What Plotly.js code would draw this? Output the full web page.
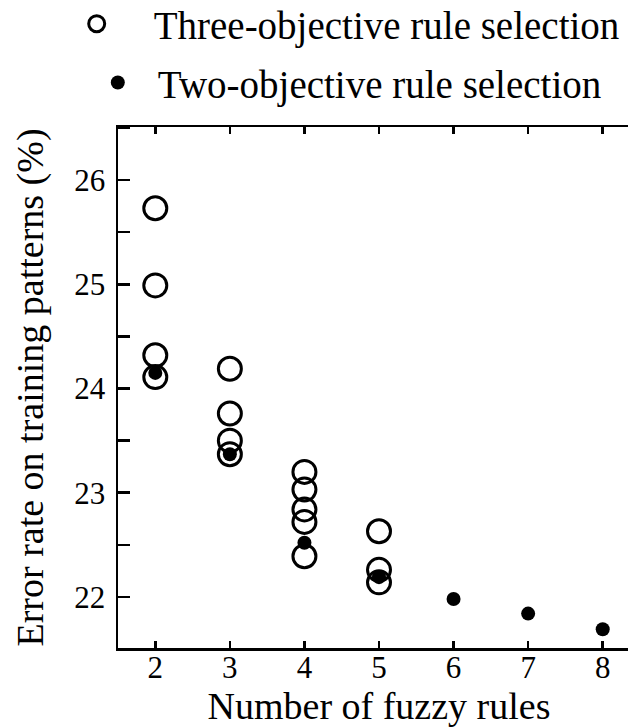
<!DOCTYPE html>
<html>
<head>
<meta charset="utf-8">
<script src="https://cdn.plot.ly/plotly-3.0.1.min.js"></script>
<style>
html, body { margin: 0; padding: 0; overflow: hidden; background: #fff; }
#chart { width: 660px; height: 728px; }
</style>
</head>
<body>
<div id="chart"></div>
<script>
// Data
const threeObjRules = [2, 2, 2, 2, 3, 3, 3, 3, 4, 4, 4, 4, 4, 5, 5, 5];
const threeObjError = [25.73, 24.99, 24.32, 24.11, 24.19, 23.76, 23.50, 23.37, 23.20, 23.03, 22.84, 22.72, 22.39, 22.63, 22.26, 22.14];
const twoObjRules = [2, 3, 4, 5, 6, 7, 8];
const twoObjError = [24.15, 23.37, 22.52, 22.19, 21.98, 21.84, 21.69];
const xTickVals = [2, 3, 4, 5, 6, 7, 8];
const yTickVals = [22, 23, 24, 25, 26];

const serif = '"Liberation Serif", "Times New Roman", serif';

const traces = [
  {
    x: threeObjRules, y: threeObjError,
    type: 'scatter', mode: 'markers',
    name: 'Three-objective rule selection',
    legend: 'legend',
    marker: { symbol: 'circle-open', size: 23, color: '#000', line: { width: 3, color: '#000' } },
    cliponaxis: false
  },
  {
    x: twoObjRules, y: twoObjError,
    type: 'scatter', mode: 'markers',
    name: 'Two-objective rule selection',
    legend: 'legend2',
    marker: { symbol: 'circle', size: 14, color: '#000' },
    cliponaxis: false
  }
];

const layout = {
  width: 660, height: 728,
  margin: { l: 118, r: 20, t: 127, b: 80, autoexpand: false },
  paper_bgcolor: '#fff', plot_bgcolor: '#fff',
  font: { family: serif, color: '#000', size: 31 },
  showlegend: true,
  legend: {
    x: -0.15, y: 1.198, xanchor: 'left', yanchor: 'middle',
    itemwidth: 104,
    font: { family: serif, size: 39, color: '#000' },
    bgcolor: 'rgba(0,0,0,0)'
  },
  legend2: {
    x: -0.077, y: 1.085, xanchor: 'left', yanchor: 'middle',
    itemwidth: 70,
    font: { family: serif, size: 39, color: '#000' },
    bgcolor: 'rgba(0,0,0,0)'
  },
  xaxis: {
    range: [1.5, 8.5],
    tickvals: xTickVals,
    ticks: 'inside', ticklen: 7, tickwidth: 2.5, tickcolor: '#000',
    showline: true, linewidth: 2.5, linecolor: '#000', mirror: 'allticks',
    showgrid: false, zeroline: false,
    tickfont: { family: serif, size: 31, color: '#000' },
    ticklabelstandoff: -10,
    title: { text: 'Number of fuzzy rules', font: { family: serif, size: 38, color: '#000' }, standoff: 2 }
  },
  yaxis: {
    range: [21.51, 26.51],
    tickvals: yTickVals,
    ticks: 'inside', ticklen: 12, tickwidth: 2.5, tickcolor: '#000',
    minor: { dtick: 0.5, ticks: 'inside', ticklen: 12, tickwidth: 2.5, tickcolor: '#000', showgrid: false },
    showline: true, linewidth: 2.5, linecolor: '#000', mirror: 'allticks',
    showgrid: false, zeroline: false,
    tickfont: { family: serif, size: 31, color: '#000' },
    ticklabelstandoff: 4,
    title: { text: 'Error rate on training patterns (%)', font: { family: serif, size: 38, color: '#000' }, standoff: 19 }
  }
};

Plotly.newPlot('chart', traces, layout, { displayModeBar: false, staticPlot: true });
</script>
</body>
</html>
